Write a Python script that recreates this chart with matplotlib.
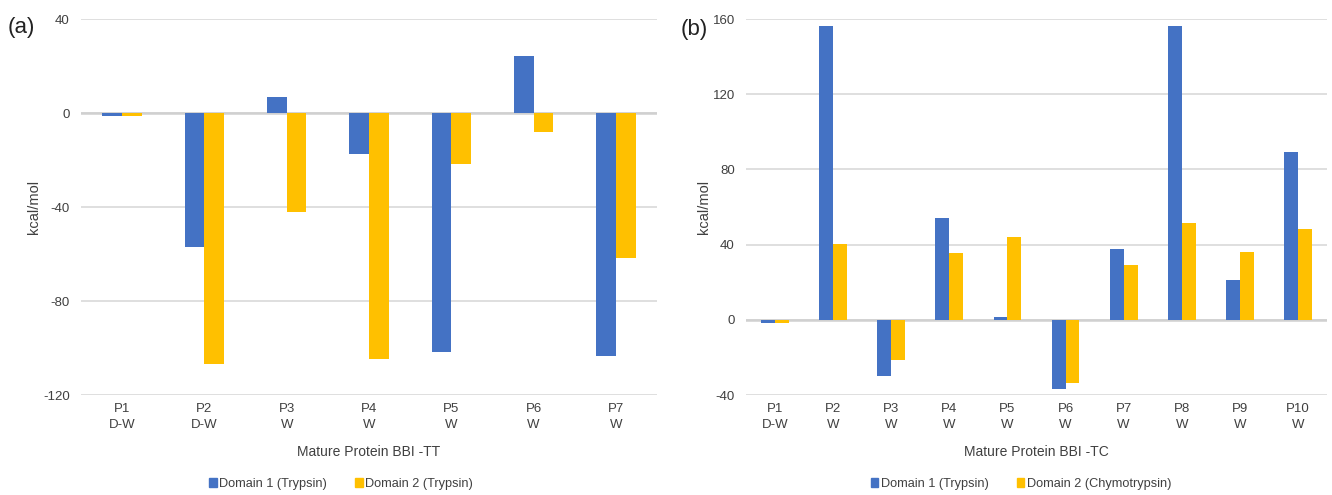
import matplotlib.pyplot as plt
import numpy as np
from matplotlib.patches import Patch

plt.rcParams['font.family'] = ['Liberation Sans', 'DejaVu Sans']

# panel (a): BBI-TT
tt_labels = ['P1\nD-W', 'P2\nD-W', 'P3\nW', 'P4\nW', 'P5\nW', 'P6\nW', 'P7\nW']
tt_domain1 = [-1.2, -57.0, 6.9, -17.5, -101.9, 24.3, -103.4]
tt_domain2 = [-1.2, -106.7, -42.1, -104.7, -21.7, -8.2, -61.9]

# panel (b): BBI-TC
tc_labels = ['P1\nD-W', 'P2\nW', 'P3\nW', 'P4\nW', 'P5\nW', 'P6\nW', 'P7\nW', 'P8\nW', 'P9\nW', 'P10\nW']
tc_domain1 = [-1.5, 156.1, -29.7, 54.1, 1.6, -36.6, 37.6, 156.1, 21.1, 89.0]
tc_domain2 = [-1.5, 40.5, -21.3, 35.3, 44.2, -33.8, 28.9, 51.3, 35.9, 48.3]

blue = '#4472C4'
gold = '#FFC000'
grid_col = '#D9D9D9'
txt_col = '#404040'


def draw_panel(ax, labels, d1, d2, yticks):
    x = np.arange(len(labels))
    w = 0.24
    for yt in yticks:
        ax.axhline(yt, color=grid_col, lw=1.2, zorder=0)
    ax.axhline(0, color='#D0D0D0', lw=1.8, zorder=1)
    ax.bar(x - w / 2, d1, w, color=blue, zorder=2)
    ax.bar(x + w / 2, d2, w, color=gold, zorder=2)
    ax.set_xlim(-0.5, len(labels) - 0.5)
    ax.set_ylim(yticks[0], yticks[-1])
    ax.set_yticks(yticks)
    ax.set_yticklabels([str(v) for v in yticks], fontsize=9.5, color=txt_col)
    ax.set_xticks(x)
    ax.set_xticklabels(labels, fontsize=9.5, color=txt_col, linespacing=1.4)
    ax.tick_params(length=0, axis='y', pad=8)
    ax.tick_params(length=0, axis='x', pad=6)
    for s in ax.spines.values():
        s.set_visible(False)
    ax.set_ylabel('kcal/mol', fontsize=10.5, color=txt_col)


fig = plt.figure(figsize=(13.32, 4.95), dpi=100)
ax1 = fig.add_axes([81 / 1332, 1 - 395 / 495, (657 - 81) / 1332, (395 - 19) / 495])
ax2 = fig.add_axes([746 / 1332, 1 - 395 / 495, (1327 - 746) / 1332, (395 - 19) / 495])

draw_panel(ax1, tt_labels, tt_domain1, tt_domain2, [-120, -80, -40, 0, 40])
draw_panel(ax2, tc_labels, tc_domain1, tc_domain2, [-40, 0, 40, 80, 120, 160])
ax1.yaxis.set_label_coords(-0.069, 0.5)
ax2.yaxis.set_label_coords(-0.060, 0.5)

ax1.set_xlabel('Mature Protein BBI -TT', fontsize=10, color=txt_col, labelpad=10)
ax2.set_xlabel('Mature Protein BBI -TC', fontsize=10, color=txt_col, labelpad=10)

fig.text(8 / 1332, 1 - 27 / 495, '(a)', fontsize=16, va='center', ha='left', color='#222222')
fig.text(681 / 1332, 1 - 29 / 495, '(b)', fontsize=16, va='center', ha='left', color='#222222')

h1 = [Patch(color=blue, label='Domain 1 (Trypsin)'), Patch(color=gold, label='Domain 2 (Trypsin)')]
h2 = [Patch(color=blue, label='Domain 1 (Trypsin)'), Patch(color=gold, label='Domain 2 (Chymotrypsin)')]
leg_kw = dict(ncol=2, frameon=False, fontsize=9.2, handlelength=0.6, handleheight=0.6,
              handletextpad=0.2, columnspacing=2.2, loc='center')
l1 = fig.legend(handles=h1, bbox_to_anchor=(341 / 1332, 1 - 484 / 495), **leg_kw)
for t in l1.get_texts():
    t.set_color(txt_col)
l2 = fig.legend(handles=h2, bbox_to_anchor=(1021 / 1332, 1 - 484 / 495), **leg_kw)
for t in l2.get_texts():
    t.set_color(txt_col)

fig.savefig('out.png', dpi=100)
